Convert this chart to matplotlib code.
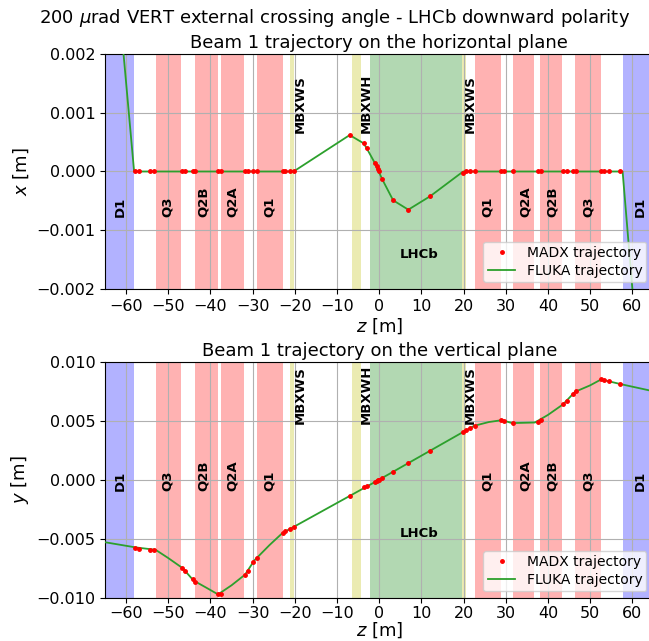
import matplotlib
matplotlib.use("Agg")
import matplotlib.pyplot as plt

# elements along the beam line (z in m)
elem_names = ["D1", "Q3", "Q2B", "Q2A", "Q1", "MBXWS", "MBXWH", "LHCb",
              "MBXWS", "Q1", "Q2A", "Q2B", "Q3", "D1"]
elem_start = [-70.0, -53.0, -43.7, -37.4, -29.0, -21.1, -6.5, -2.2,
              19.6, 22.7, 31.6, 38.1, 46.3, 57.7]
elem_end = [-58.1, -47.0, -38.3, -32.1, -22.9, -20.2, -4.4, 19.6,
            20.5, 28.9, 36.8, 43.4, 52.6, 70.0]
elem_label_z = [-61.4, -50.2, -41.6, -34.8, -26.0, -18.8, -3.1, 9.4,
                21.7, 25.6, 34.6, 41.0, 49.6, 62.0]

# MADX trajectory points
z_madx = [-57.8, -57.0, -54.4, -53.4, -46.8, -46.0, -44.2, -43.7, -38.3, -37.5,
          -31.9, -31.2, -29.8, -29.0, -22.9, -22.3, -21.1, -20.3, -7.0, -3.7,
          -3.0, -1.0, -0.6, -0.3, 0.0, 0.7, 3.3, 6.9, 12.1, 19.9,
          20.6, 21.5, 22.8, 28.8, 29.6, 31.6, 37.7, 38.4, 43.6, 44.6,
          46.0, 46.7, 52.6, 53.2, 54.5, 57.0]
x_madx = [0.0, 0.0, 0.0, 0.0, 0.0, 0.0, 0.0, 0.0, 0.0, 0.0,
          0.0, 0.0, 0.0, 0.0, 0.0, 0.0, 0.0, 0.00001, 0.00062, 0.00048,
          0.00040, 0.00014, 0.00009, 0.00005, 0.00001, -0.00013, -0.00049, -0.00065, -0.00042, -0.00002,
          0.0, 0.0, 0.0, 0.0, 0.0, 0.0, 0.0, 0.0, 0.0, 0.0,
          0.0, 0.0, 0.0, 0.0, 0.0, 0.0]
y_madx = [-0.00573, -0.00582, -0.0059, -0.0059, -0.0074, -0.0077, -0.0084, -0.0086, -0.00967, -0.0096,
          -0.0080, -0.0077, -0.0069, -0.0066, -0.00447, -0.0043, -0.00413, -0.00395, -0.00132, -0.0006,
          -0.00048, -0.00016, -0.00006, 0.0, 0.00003, 0.0002, 0.0007, 0.00143, 0.00245, 0.00405,
          0.0042, 0.0044, 0.0046, 0.00505, 0.00495, 0.00481, 0.0049, 0.00505, 0.0064, 0.0067,
          0.0073, 0.00755, 0.0085, 0.00845, 0.0084, 0.0081]

# FLUKA trajectory
z_fluka_h = [-65.0, -58.1, -20.3, -7.0, -3.7, -3.0, -1.0, -0.3, 0.7, 3.3,
             6.9, 12.1, 19.9, 57.7, 65.0]
x_fluka = [0.0055, 0.0, 0.0, 0.00062, 0.00048, 0.00040, 0.00014, 0.00003, -0.00013, -0.00049,
           -0.00065, -0.00042, 0.0, 0.0, -0.0063]
z_fluka_v = [-65.0, -57.7, -53.0, -50.0, -46.6, -44.0, -41.0, -38.2, -35.0, -31.8,
             -29.6, -26.0, -22.9, -20.1, 0.0, 20.0, 22.5, 26.0, 29.1, 31.5,
             36.9, 40.0, 43.6, 46.4, 50.0, 52.6, 57.3, 65.0]
y_fluka = [-0.00526, -0.0057, -0.0059, -0.0066, -0.00745, -0.0085, -0.0091, -0.00967, -0.0089, -0.0080,
           -0.0068, -0.0055, -0.00447, -0.00393, 0.00003, 0.00408, 0.00458, 0.0049, 0.00506, 0.00481,
           0.00486, 0.0055, 0.0064, 0.00745, 0.0080, 0.0085, 0.0081, 0.0075]

colores = {"D1": "blue", "Q": "red", "MBX": "y", "LHCb": "green"}


def tipo(nombre):
    if nombre.startswith("Q"):
        return "Q"
    if nombre.startswith("MBX"):
        return "MBX"
    return nombre


def dibujar_elementos(ax, y_quad, y_mbx, y_lhcb):
    for nombre, z0, z1, zl in zip(elem_names, elem_start, elem_end, elem_label_z):
        t = tipo(nombre)
        ax.axvspan(z0, z1, color=colores[t], alpha=0.3, lw=0)
        if t == "LHCb":
            ax.text(zl, y_lhcb, nombre, ha="center", va="center",
                    fontsize=9.5, fontweight="bold")
        else:
            y = y_mbx if t == "MBX" else y_quad
            ax.text(zl, y, nombre, rotation=90, ha="center", va="bottom",
                    fontsize=9.5, fontweight="bold")


plt.rcParams["font.size"] = 11.5
plt.rcParams["axes.titlesize"] = 13
plt.rcParams["axes.labelsize"] = 13
fig = plt.figure(figsize=(6.49, 6.41), dpi=100)
ax1 = fig.add_axes([105 / 649, 1 - 289 / 641, 548.4 / 649, 235 / 641])
ax2 = fig.add_axes([105 / 649, 1 - 598.3 / 641, 548.4 / 649, 236.6 / 641])

fig.text(335 / 649, 1 - 18 / 641,
         r"200 $\mu$rad VERT external crossing angle - LHCb downward polarity",
         ha="center", va="center", fontsize=13)

dibujar_elementos(ax1, -0.00077, 0.00065, -0.00142)
ax1.plot(z_madx, x_madx, "r.", markersize=5, label="MADX trajectory", zorder=4)
ax1.plot(z_fluka_h, x_fluka, color="tab:green", lw=1.3, label="FLUKA trajectory", zorder=3)
ax1.set_xlim(-65, 65)
ax1.set_ylim(-0.002, 0.002)
ax1.set_title("Beam 1 trajectory on the horizontal plane", pad=4)
ax1.set_xlabel("$z$ [m]", labelpad=2)
ax1.set_ylabel("$x$ [m]")
ax1.grid(True)
ax1.legend(loc="lower right", fontsize=10, labelspacing=0.3, borderpad=0.3)

dibujar_elementos(ax2, -0.0009, 0.0047, -0.0045)
ax2.plot(z_madx, y_madx, "r.", markersize=5, label="MADX trajectory", zorder=4)
ax2.plot(z_fluka_v, y_fluka, color="tab:green", lw=1.3, label="FLUKA trajectory", zorder=3)
ax2.set_xlim(-65, 65)
ax2.set_ylim(-0.01, 0.01)
ax2.set_title("Beam 1 trajectory on the vertical plane", pad=4)
ax2.tick_params(axis="x", pad=2)
ax2.set_xlabel("$z$ [m]", labelpad=0)
ax2.set_ylabel("$y$ [m]")
ax2.grid(True)
ax2.legend(loc="lower right", fontsize=10, labelspacing=0.3, borderpad=0.3)

for ax in (ax1, ax2):
    ax.set_xticks(range(-60, 61, 10))

fig.savefig("out.png", dpi=100)
